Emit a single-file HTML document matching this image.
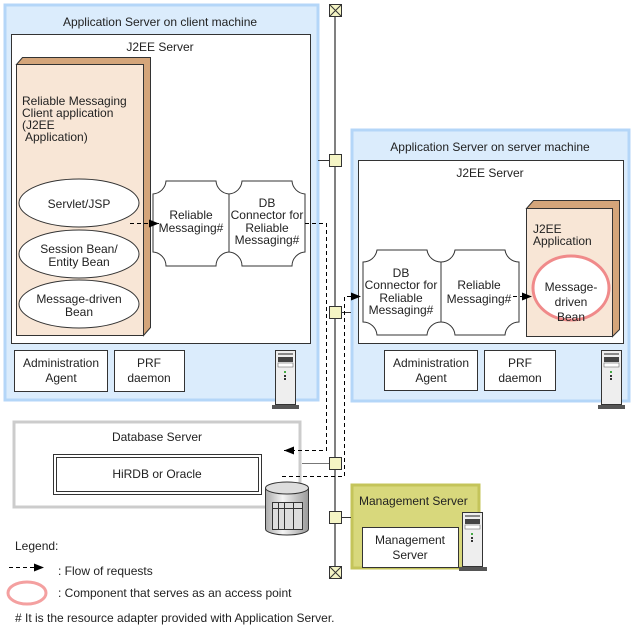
<!DOCTYPE html>
<html><head><meta charset="utf-8"><style>
html,body{margin:0;padding:0;background:#fff;width:635px;height:629px;overflow:hidden}
text{font-family:"Liberation Sans",Arial,sans-serif;font-size:12px;fill:#222}
</style></head><body>
<svg width="635" height="629" viewBox="0 0 635 629" xmlns="http://www.w3.org/2000/svg">
<defs>
<marker id="ah" markerWidth="10" markerHeight="8" refX="10" refY="4" orient="auto" markerUnits="userSpaceOnUse"><path d="M0,0 L10,4 L0,8 z" fill="#000"/></marker>
<linearGradient id="cyl" x1="0" x2="1"><stop offset="0" stop-color="#aaa"/><stop offset="0.4" stop-color="#f4f4f4"/><stop offset="1" stop-color="#999"/></linearGradient>
</defs>
<!-- bus -->
<line x1="335" y1="12" x2="335" y2="572" stroke="#000" stroke-width="1"/>
<!-- Client server -->
<rect x="5" y="5" width="313" height="395" fill="#dbecfc" stroke="#b4d6f8" stroke-width="3"/>
<text x="160" y="26" text-anchor="middle">Application Server on client machine</text>
<rect x="11.5" y="34.5" width="299" height="309" fill="#fff" stroke="#333"/>
<text x="160" y="51" text-anchor="middle">J2EE Server</text>
<path d="M16.5,64.5 L22.5,57.5 L150.5,57.5 L150.5,327.5 L143.5,335.5 L143.5,64.5 z" fill="#d4a57a" stroke="#333"/>
<rect x="16.5" y="64.5" width="127" height="271" fill="#f8e6d6" stroke="#333"/>
<text x="22" y="105">Reliable Messaging</text>
<text x="22" y="117">Client application</text>
<text x="22" y="129">(J2EE</text>
<text x="25" y="141">Application)</text>
<ellipse cx="79" cy="203" rx="60" ry="24" fill="#fff" stroke="#333"/>
<text x="79" y="208" text-anchor="middle">Servlet/JSP</text>
<ellipse cx="79" cy="254" rx="60" ry="24" fill="#fff" stroke="#333"/>
<text x="79" y="253" text-anchor="middle">Session Bean/</text>
<text x="79" y="266" text-anchor="middle">Entity Bean</text>
<ellipse cx="79" cy="304" rx="60" ry="24" fill="#fff" stroke="#333"/>
<text x="79" y="303" text-anchor="middle">Message-driven</text>
<text x="79" y="316" text-anchor="middle">Bean</text>
<!-- puzzles client -->
<path d="M153,194 A14,14 0 0 0 166,181 L216,181 A14,14 0 0 0 229,194 L229,252 A14,14 0 0 0 216,266 L166,266 A14,14 0 0 0 153,252 z" fill="#fff" stroke="#333"/>
<path d="M229,194 A14,14 0 0 0 242,181 L292,181 A14,14 0 0 0 305,194 L305,252 A14,14 0 0 0 292,266 L242,266 A14,14 0 0 0 229,252 z" fill="#fff" stroke="#333"/>
<text x="191" y="219" text-anchor="middle">Reliable</text>
<text x="191" y="232" text-anchor="middle">Messaging#</text>
<text x="267" y="207" text-anchor="middle">DB</text>
<text x="267" y="219" text-anchor="middle">Connector for</text>
<text x="267" y="232" text-anchor="middle">Reliable</text>
<text x="267" y="244" text-anchor="middle">Messaging#</text>
<line x1="130" y1="223.5" x2="159" y2="223.5" stroke="#000" stroke-dasharray="4,3" marker-end="url(#ah)"/>
<rect x="14.5" y="350.5" width="93" height="41" fill="#fff" stroke="#333"/>
<text x="61" y="367" text-anchor="middle">Administration</text>
<text x="61" y="382" text-anchor="middle">Agent</text>
<rect x="114.5" y="350.5" width="70" height="41" fill="#fff" stroke="#333"/>
<text x="149" y="367" text-anchor="middle">PRF</text>
<text x="149" y="382" text-anchor="middle">daemon</text>
<!-- server icon client -->
<g transform="translate(272,350)"><rect x="3.5" y="0.5" width="20" height="54" fill="#eee" stroke="#333"/><rect x="6" y="3" width="15" height="2" fill="#888"/><rect x="6" y="7" width="15" height="5" fill="#444"/><rect x="6" y="13" width="15" height="4" fill="#fff" stroke="#555" stroke-width="0.5"/><rect x="12" y="21" width="2" height="2" fill="#4a4"/><rect x="12" y="25" width="2" height="2" fill="#333"/><rect x="12" y="28" width="2" height="2" fill="#333"/><rect x="0" y="55" width="27" height="4" fill="#555"/></g>
<!-- Server machine -->
<rect x="352" y="130" width="277" height="271" fill="#dbecfc" stroke="#b4d6f8" stroke-width="3"/>
<text x="490" y="151" text-anchor="middle">Application Server on server machine</text>
<rect x="358.5" y="160.5" width="265" height="183" fill="#fff" stroke="#333"/>
<text x="490" y="177" text-anchor="middle">J2EE Server</text>
<path d="M526.5,208.5 L533.5,200.5 L619.5,200.5 L619.5,329.5 L612.5,336.5 L612.5,208.5 z" fill="#d4a57a" stroke="#333"/>
<rect x="526.5" y="208.5" width="86" height="128" fill="#f8e6d6" stroke="#333"/>
<text x="533" y="233">J2EE</text>
<text x="533" y="245">Application</text>
<ellipse cx="571" cy="288" rx="38" ry="32" fill="#fff" stroke="#f08a8a" stroke-width="3"/>
<text x="571" y="291" text-anchor="middle">Message-</text>
<text x="571" y="306" text-anchor="middle">driven</text>
<text x="571" y="321" text-anchor="middle">Bean</text>
<path d="M363,262 A14,14 0 0 0 377,250 L427,250 A14,14 0 0 0 441,262 L441,322 A14,14 0 0 0 427,335 L377,335 A14,14 0 0 0 363,322 z" fill="#fff" stroke="#333"/>
<path d="M441,262 A14,14 0 0 0 455,250 L505,250 A14,14 0 0 0 519,262 L519,322 A14,14 0 0 0 505,335 L455,335 A14,14 0 0 0 441,322 z" fill="#fff" stroke="#333"/>
<text x="401" y="277" text-anchor="middle">DB</text>
<text x="401" y="289" text-anchor="middle">Connector for</text>
<text x="401" y="302" text-anchor="middle">Reliable</text>
<text x="401" y="314" text-anchor="middle">Messaging#</text>
<text x="479" y="289" text-anchor="middle">Reliable</text>
<text x="479" y="303" text-anchor="middle">Messaging#</text>
<line x1="513" y1="296.5" x2="532" y2="296.5" stroke="#000" stroke-dasharray="4,3" marker-end="url(#ah)"/>
<rect x="384.5" y="350.5" width="93" height="40" fill="#fff" stroke="#333"/>
<text x="431" y="367" text-anchor="middle">Administration</text>
<text x="431" y="382" text-anchor="middle">Agent</text>
<rect x="484.5" y="350.5" width="71" height="40" fill="#fff" stroke="#333"/>
<text x="520" y="367" text-anchor="middle">PRF</text>
<text x="520" y="382" text-anchor="middle">daemon</text>
<g transform="translate(598,350)"><rect x="3.5" y="0.5" width="20" height="54" fill="#eee" stroke="#333"/><rect x="6" y="3" width="15" height="2" fill="#888"/><rect x="6" y="7" width="15" height="5" fill="#444"/><rect x="6" y="13" width="15" height="4" fill="#fff" stroke="#555" stroke-width="0.5"/><rect x="12" y="21" width="2" height="2" fill="#4a4"/><rect x="12" y="25" width="2" height="2" fill="#333"/><rect x="12" y="28" width="2" height="2" fill="#333"/><rect x="0" y="55" width="27" height="4" fill="#555"/></g>
<!-- DB server -->
<rect x="14" y="422" width="286" height="85" fill="#fff" stroke="#ccc" stroke-width="3"/>
<text x="157" y="441" text-anchor="middle">Database Server</text>
<rect x="53.5" y="454.5" width="208" height="40" fill="#fff" stroke="#333"/>
<rect x="56.5" y="457.5" width="202" height="34" fill="#fff" stroke="#333"/>
<text x="157" y="478" text-anchor="middle">HiRDB or Oracle</text>
<path d="M265.5,488 L265.5,529 A21.5,6 0 0 0 308.5,529 L308.5,488 z" fill="url(#cyl)" stroke="#333"/>
<ellipse cx="287" cy="488" rx="21.5" ry="6" fill="#ddd" stroke="#333"/>
<rect x="272.5" y="502.5" width="30" height="27" fill="#ddd" stroke="#333"/>
<line x1="272" y1="508.5" x2="303" y2="508.5" stroke="#333"/>
<line x1="278.5" y1="503" x2="278.5" y2="530" stroke="#333"/><line x1="284.5" y1="503" x2="284.5" y2="530" stroke="#333"/><line x1="293.5" y1="503" x2="293.5" y2="530" stroke="#333"/>
<!-- Management -->
<rect x="352" y="485" width="127" height="83" fill="#d8d87c" stroke="#c4c45a" stroke-width="3"/>
<text x="359" y="505">Management Server</text>
<rect x="362.5" y="527.5" width="96" height="40" fill="#fff" stroke="#333"/>
<text x="410" y="544" text-anchor="middle">Management</text>
<text x="410" y="559" text-anchor="middle">Server</text>
<g transform="translate(459,512)"><rect x="3.5" y="0.5" width="20" height="54" fill="#eee" stroke="#333"/><rect x="6" y="3" width="15" height="2" fill="#888"/><rect x="6" y="7" width="15" height="5" fill="#444"/><rect x="6" y="13" width="15" height="4" fill="#fff" stroke="#555" stroke-width="0.5"/><rect x="12" y="21" width="2" height="2" fill="#4a4"/><rect x="12" y="25" width="2" height="2" fill="#333"/><rect x="12" y="28" width="2" height="2" fill="#333"/><rect x="0" y="55" width="28" height="4" fill="#555"/></g>
<!-- bus connections -->
<line x1="318" y1="160.5" x2="330" y2="160.5" stroke="#333"/>
<line x1="342" y1="312.5" x2="351" y2="312.5" stroke="#333"/>
<line x1="302" y1="463.5" x2="330" y2="463.5" stroke="#777"/>
<line x1="342" y1="517.5" x2="351" y2="517.5" stroke="#333"/>
<g fill="#f4f4c4" stroke="#333">
<rect x="329.5" y="154.5" width="12" height="12"/>
<rect x="329.5" y="306.5" width="12" height="12"/>
<rect x="329.5" y="457.5" width="12" height="12"/>
<rect x="329.5" y="511.5" width="12" height="12"/>
<rect x="329.5" y="4.5" width="12" height="12"/>
<rect x="329.5" y="566.5" width="12" height="12"/>
</g>
<path d="M329.5,4.5 L341.5,16.5 M341.5,4.5 L329.5,16.5 M329.5,566.5 L341.5,578.5 M341.5,566.5 L329.5,578.5" stroke="#333"/>
<!-- dashed flows -->
<polyline points="305,223.5 326.5,223.5 326.5,450.5 284,450.5" fill="none" stroke="#000" stroke-dasharray="4,3" marker-end="url(#ah)"/>
<polyline points="282,476.5 344.5,476.5 344.5,296.5 361,296.5" fill="none" stroke="#000" stroke-dasharray="4,3" marker-end="url(#ah)"/>
<!-- legend -->
<text x="15" y="550">Legend:</text>
<line x1="9" y1="567.5" x2="44" y2="567.5" stroke="#000" stroke-dasharray="4,3" marker-end="url(#ah)"/>
<text x="58" y="575">: Flow of requests</text>
<ellipse cx="27" cy="593" rx="19" ry="11" fill="#fff" stroke="#f4a0a0" stroke-width="3"/>
<text x="58" y="597">: Component that serves as an access point</text>
<text x="15" y="622"># It is the resource adapter provided with Application Server.</text>
</svg>
</body></html>
